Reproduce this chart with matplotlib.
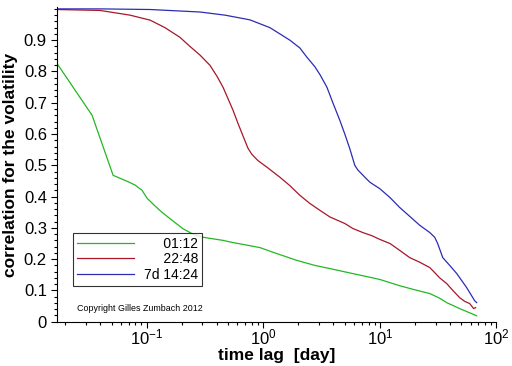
import numpy as np
import matplotlib
matplotlib.use("Agg")
from matplotlib import pyplot as plt
from matplotlib.ticker import MultipleLocator, FixedLocator, FuncFormatter, LogLocator

plt.rcParams['font.family'] = ['Liberation Sans', 'DejaVu Sans']
plt.rcParams['mathtext.fontset'] = 'custom'
plt.rcParams['mathtext.rm'] = 'Liberation Sans'
plt.rcParams['mathtext.it'] = 'Liberation Sans'
plt.rcParams['mathtext.bf'] = 'Liberation Sans:bold'

# time lag in days, correlation
lag_0112 = [0.0169, 0.034, 0.0515, 0.0678, 0.0794, 0.0912, 0.1006, 0.1178, 0.135, 0.168,
            0.205, 0.249, 0.304, 0.370, 0.451, 0.550, 0.696, 0.935, 1.256, 1.94,
            2.77, 3.72, 5.20, 7.14, 10.0, 14.8, 19.9, 26.8, 32.6, 37.4, 48.3, 67.6]
corr_0112 = [0.827, 0.66, 0.468, 0.449, 0.437, 0.42, 0.395, 0.37, 0.35, 0.322,
             0.297, 0.28, 0.27, 0.265, 0.26, 0.253, 0.246, 0.237, 0.22, 0.196,
             0.18, 0.17, 0.158, 0.147, 0.135, 0.115, 0.102, 0.09, 0.075, 0.061, 0.042, 0.019]

lag_2248 = [0.0169, 0.0398, 0.0719, 0.107, 0.1435, 0.193, 0.235, 0.287, 0.348, 0.400,
            0.451, 0.498, 0.550, 0.605, 0.668, 0.738, 0.798, 0.90, 1.074, 1.387,
            1.69, 2.06, 2.51, 3.06, 3.72, 5.00, 5.86, 7.14, 8.53, 10.0,
            12.2, 14.8, 18.0, 22.0, 26.8, 29.5, 32.6, 37.4, 42.2, 48.3,
            53.4, 58.9, 63.7, 66.3]
corr_2248 = [0.998, 0.995, 0.98, 0.964, 0.94, 0.909, 0.88, 0.852, 0.82, 0.785,
             0.75, 0.713, 0.676, 0.635, 0.595, 0.555, 0.535, 0.515, 0.494, 0.462,
             0.435, 0.404, 0.378, 0.356, 0.335, 0.314, 0.298, 0.285, 0.275, 0.263,
             0.25, 0.228, 0.205, 0.19, 0.173, 0.157, 0.14, 0.122, 0.10, 0.077,
             0.065, 0.058, 0.042, 0.045]

lag_7d1424 = [0.0169, 0.0398, 0.107, 0.287, 0.469, 0.767, 1.14, 1.69, 2.06, 2.36,
              2.77, 3.06, 3.51, 3.95, 4.53, 5.00, 5.52, 6.09, 6.47, 7.43,
              8.20, 10.0, 12.2, 14.8, 18.0, 22.0, 26.8, 29.5, 31.3, 34.6,
              39.7, 45.6, 55.5, 65.0, 67.6]
corr_7d1424 = [1.0, 1.0, 0.998, 0.99, 0.98, 0.965, 0.94, 0.90, 0.875, 0.846,
               0.815, 0.79, 0.75, 0.70, 0.644, 0.60, 0.553, 0.50, 0.485, 0.462,
               0.446, 0.425, 0.397, 0.365, 0.337, 0.308, 0.285, 0.27, 0.25, 0.205,
               0.18, 0.154, 0.109, 0.067, 0.061]

labels = ["     01:12", "     22:48", "7d 14:24"]
colors = ["#22b822", "#a8162a", "#2c2cb4"]

fig = plt.figure(figsize=(5.12, 3.66), dpi=100)
ax = fig.add_axes([0.1107, 0.121, 0.859, 0.859])

ax.plot(lag_0112, corr_0112, color=colors[0], lw=0.9, label=labels[0])
ax.plot(lag_2248, corr_2248, color=colors[1], lw=0.9, label=labels[1])
ax.plot(lag_7d1424, corr_7d1424, color=colors[2], lw=0.9, label=labels[2])

ax.set_xscale("log")
ax.set_xlim(0.0169, 100)
ax.set_ylim(0, 1.005)

ax.spines['top'].set_visible(False)
ax.spines['right'].set_visible(False)
ax.spines['left'].set_linewidth(0.8)
ax.spines['bottom'].set_linewidth(0.8)

ax.yaxis.set_major_locator(FixedLocator(np.arange(0, 0.95, 0.1)))
ax.yaxis.set_major_formatter(FuncFormatter(lambda v, p: f"{v:.1f}" if v > 0.01 else "0"))
ax.yaxis.set_minor_locator(MultipleLocator(0.02))
ax.xaxis.set_major_locator(LogLocator(base=10))
ax.xaxis.set_minor_locator(LogLocator(base=10, subs=np.arange(2, 10)))

ax.tick_params(which='major', length=4, width=0.8, labelsize=12, pad=3)
ax.tick_params(axis='x', which='major', pad=0.5)
ax.tick_params(which='minor', length=2.2, width=0.8)

ax.set_xlabel("time lag  [day]", fontsize=12.5, fontweight='bold')
ax.xaxis.set_label_coords(0.5, -0.083)
ax.set_ylabel("correlation for the volatility", fontsize=12.5, fontweight='bold', labelpad=4)

leg = ax.legend(loc='lower left', bbox_to_anchor=(0.0364, 0.1145), borderaxespad=0,
                fontsize=10, frameon=True, fancybox=False, handlelength=4.1,
                handletextpad=0.7, borderpad=0.3, labelspacing=0.1)
leg.get_frame().set_edgecolor('black')
leg.get_frame().set_linewidth(0.8)

ax.text(0.046, 0.0436, "Copyright Gilles Zumbach 2012", transform=ax.transAxes,
        fontsize=6.4, va='center', ha='left')

fig.savefig("out.png", dpi=100)
